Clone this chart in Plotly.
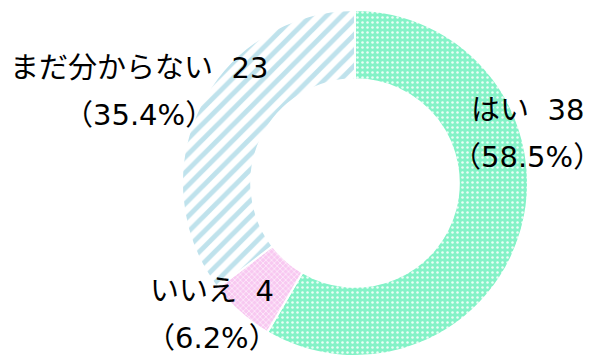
import plotly.graph_objects as go

# Survey answers, in clockwise order from 12 o'clock
labels = ["はい", "いいえ", "まだ分からない"]
values = [38, 4, 23]

total = sum(values)
percents = [v / total * 100 for v in values]

fills = ["#84f2c7", "#f8c8f1", "#ffffff"]
pattern_fg = ["#ffffff", "#ffffff", "#b4dde9"]
pattern_shape = [".", "x", "/"]
pattern_size = [5, 4, 11]
pattern_solidity = [0.2, 0.3, 0.45]

W, H = 602, 358
cx, cy, r = 355, 183, 173

fig = go.Figure(
    go.Pie(
        labels=labels,
        values=values,
        sort=False,
        direction="clockwise",
        rotation=0,
        hole=0.6,
        textinfo="none",
        marker=dict(
            colors=fills,
            line=dict(color="#ffffff", width=2),
            pattern=dict(
                shape=pattern_shape,
                fgcolor=pattern_fg,
                bgcolor=fills,
                fgopacity=0.85,
                size=pattern_size,
                solidity=pattern_solidity,
                fillmode="overlay",
            ),
        ),
        domain=dict(
            x=[(cx - r) / W, (cx + r) / W],
            y=[(H - cy - r) / H, (H - cy + r) / H],
        ),
        showlegend=False,
    )
)

# Label anchor points (pixel centres of each two-line label)
label_pos = [(527, 110), (212, 291), (139, 68)]
line_gap = 47

font = dict(family="DejaVu Sans, Noto Sans CJK JP, sans-serif", size=29, color="#000000")
for name, v, p, (px, py) in zip(labels, values, percents, label_pos):
    fig.add_annotation(
        x=px / W, y=1 - py / H, xref="paper", yref="paper",
        text=f"{name}\u00a0\u00a0{v}", showarrow=False,
        xanchor="center", yanchor="middle", font=font,
    )
    fig.add_annotation(
        x=px / W, y=1 - (py + line_gap) / H, xref="paper", yref="paper",
        text=f"（{p:.1f}%）", showarrow=False,
        xanchor="center", yanchor="middle", font=font,
    )

fig.update_layout(
    width=W,
    height=H,
    margin=dict(l=0, r=0, t=0, b=0),
    paper_bgcolor="#ffffff",
    plot_bgcolor="#ffffff",
)

fig.write_html("out.html")
